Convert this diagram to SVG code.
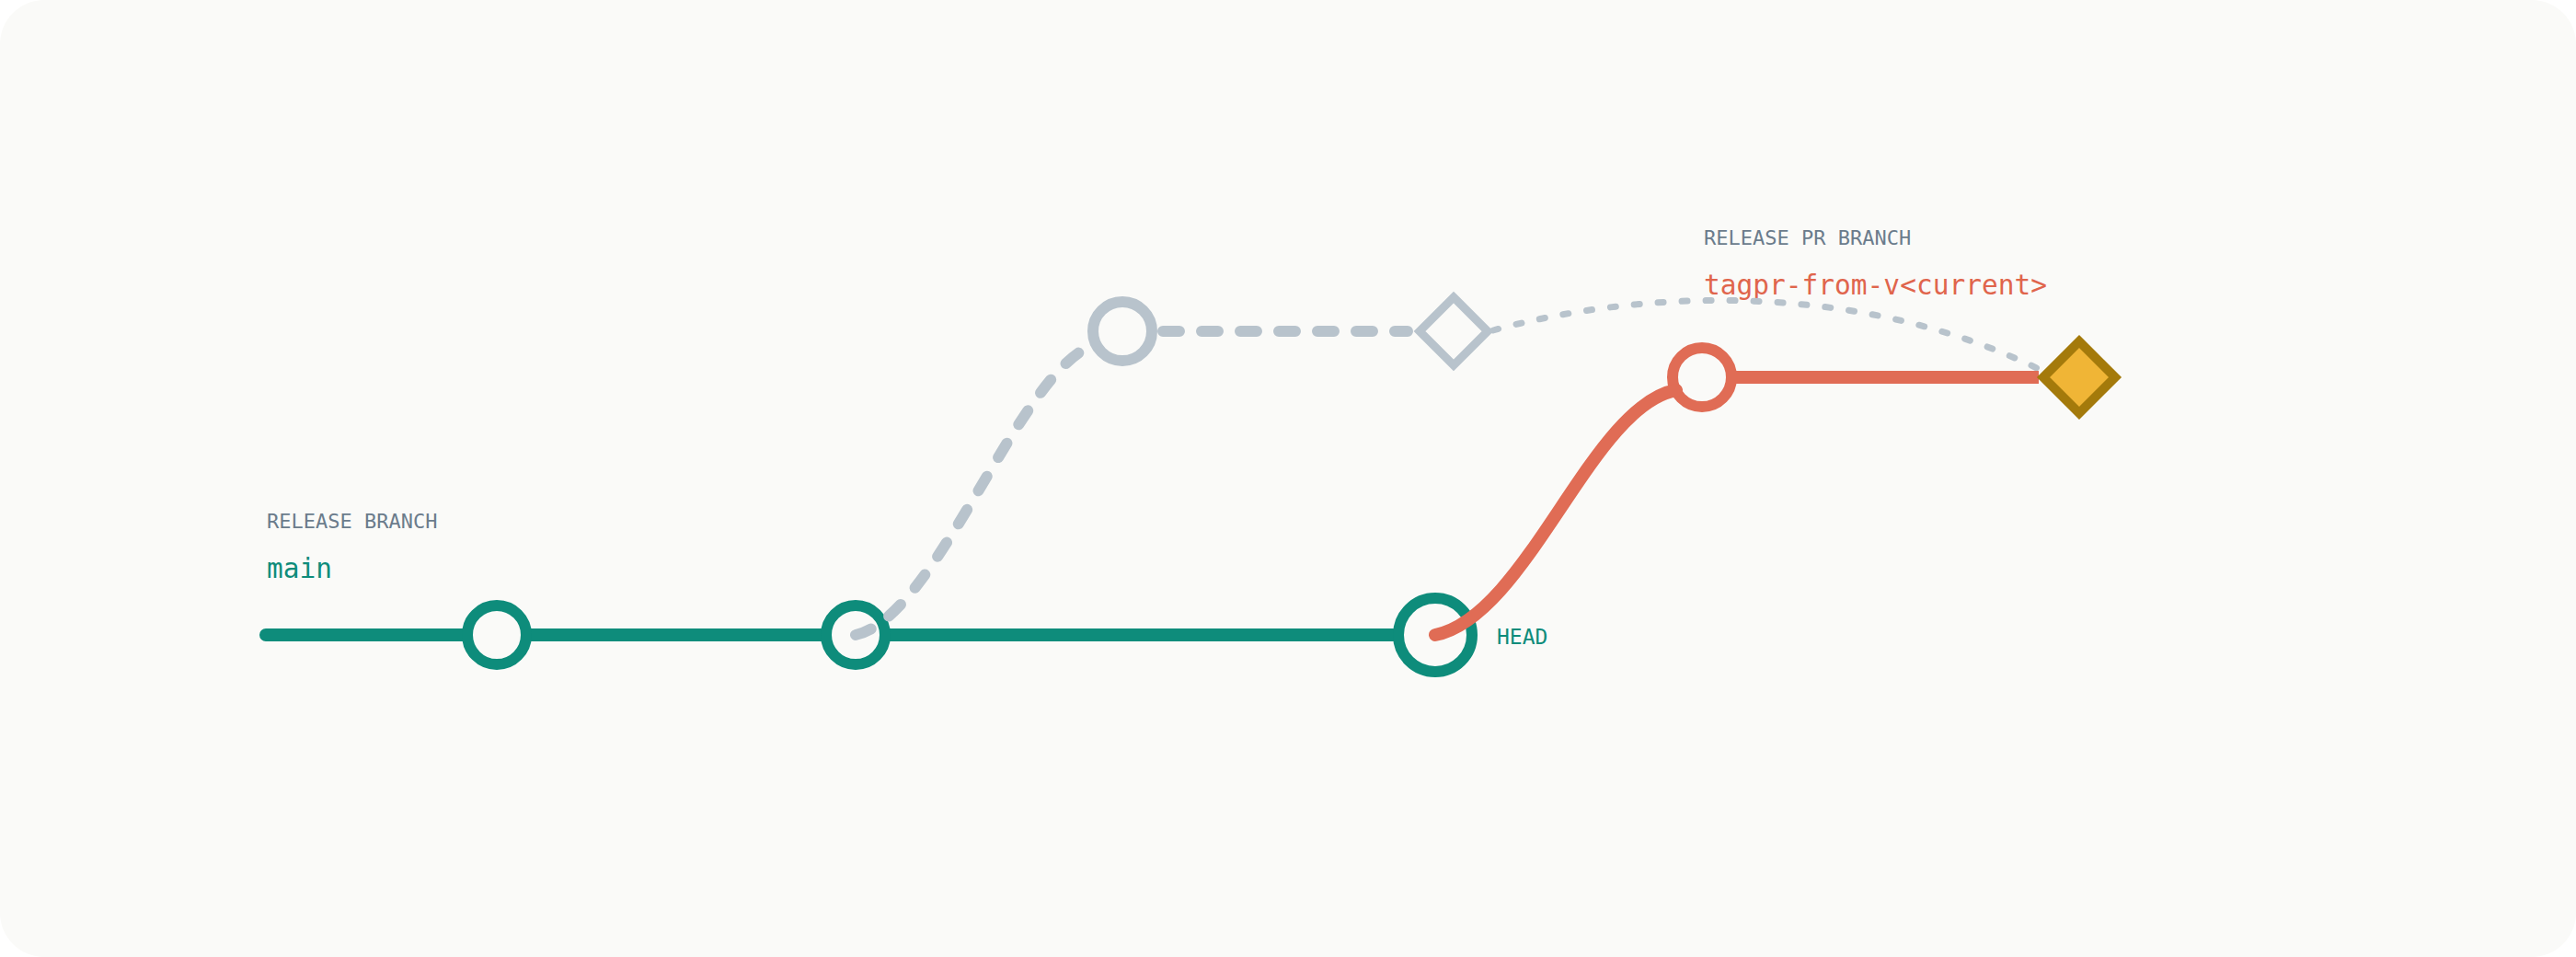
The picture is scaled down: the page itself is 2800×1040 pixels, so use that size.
<svg xmlns="http://www.w3.org/2000/svg" width="2800" height="1040" viewBox="0 0 2800 1040">
  <style>
    .lbl { font-family: "DejaVu Sans Mono", "Liberation Mono", monospace; font-size: 22px; fill: #6b7c8c; }
    .name { font-family: "DejaVu Sans Mono", "Liberation Mono", monospace; font-size: 29.5px; }
    .teal { stroke: #0e8c7b; }
    .gray { stroke: #b8c3cc; }
    .red { stroke: #e06c55; }
    .ring { fill: #fafaf8; stroke-width: 12; }
  </style>
  <rect x="0" y="0" width="2800" height="1040" fill="#ffffff"/>
  <rect x="0" y="0" width="2800" height="1040" rx="48" ry="48" fill="#fafaf8"/>

  <g id="labels">
    <text class="lbl" x="290" y="574">RELEASE BRANCH</text>
    <text class="name" x="290" y="628" fill="#0e8c7b">main</text>
    <text class="lbl" x="1852" y="266">RELEASE PR BRANCH</text>
    <text class="name" x="1852" y="320" fill="#e0654c">tagpr-from-v&lt;current&gt;</text>
    <text x="1627" y="700" font-family="DejaVu Sans Mono, Liberation Mono, monospace" font-size="23" fill="#0e8c7b">HEAD</text>
  </g>

  <g id="trunk">
    <path d="M289,690 H508 M572,690 H898 M962,690 H1520" fill="none" stroke="#0e8c7b" stroke-width="14" stroke-linecap="round"/>
  </g>

  <g id="commit-1"><circle class="ring teal" cx="540" cy="690" r="32"/></g>
  <g id="commit-2"><circle class="ring teal" cx="930" cy="690" r="32"/></g>
  <g id="commit-head"><circle class="ring teal" cx="1560" cy="690" r="40"/></g>
  <g id="old-commit"><circle class="ring gray" cx="1220" cy="360" r="32"/></g>
  <g id="old-tag"><polygon points="1580,323 1617,360 1580,397 1543,360" fill="#fafaf8" stroke="#b8c3cc" stroke-width="9"/></g>
  <g id="pr-commit"><circle class="ring red" cx="1850" cy="410" r="32"/></g>

  <g id="connectors" fill="none">
    <path d="M930,690 C1020,670 1110,395 1192,374" stroke="#b8c3cc" stroke-width="12" stroke-linecap="round" stroke-dasharray="18 24"/>
    <path d="M1264,360 H1530" stroke="#b8c3cc" stroke-width="12" stroke-linecap="round" stroke-dasharray="18 24"/>
    <path d="M1623,359 C1770,318 2010,300 2218,402" stroke="#b8c3cc" stroke-width="7" stroke-linecap="round" stroke-dasharray="6 20"/>
    <path d="M1560,690 C1660,670 1730,440 1822,424" stroke="#e06c55" stroke-width="14" stroke-linecap="round"/>
    <path d="M1882,410 H2216" stroke="#e06c55" stroke-width="14"/>
  </g>

  <g id="release-tag"><polygon points="2260,371 2299,410 2260,449 2221,410" fill="#f0b536" stroke="#a47a0b" stroke-width="10"/></g>
</svg>
